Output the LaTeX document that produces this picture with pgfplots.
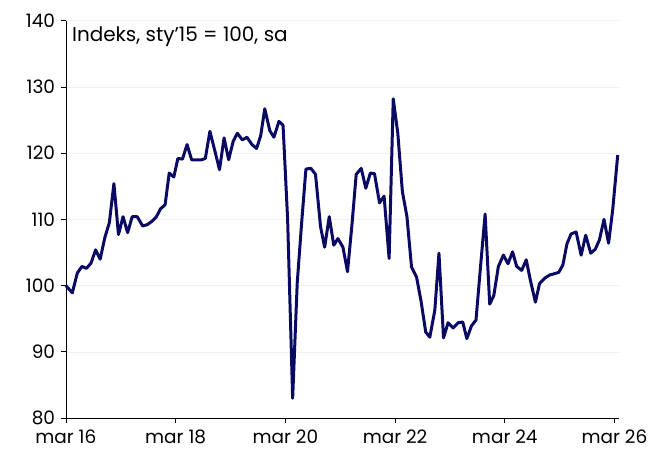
\documentclass[border=0pt]{standalone}
\usepackage{fontspec}
\setmainfont{Poppins}
\usepackage{pgfplots}
\pgfplotsset{compat=1.18}
\definecolor{navy}{RGB}{10,10,100}
\begin{document}
\fontsize{20bp}{24bp}\selectfont
\begin{tikzpicture}
\begin{axis}[
  scale only axis,
  width=554bp, height=398bp,
  xmin=0, xmax=121, ymin=80, ymax=140,
  axis x line*=bottom, axis y line*=left,
  axis line style={black, line width=0.8bp},
  tick align=outside, major tick length=5bp,
  tick style={black, line width=0.8bp},
  xtick={0,24,48,72,96,120},
  xticklabels={mar 16, mar 18, mar 20, mar 22, mar 24, mar 26},
  ytick={80,90,...,140},
  ymajorgrids, grid style={black!6, line width=0.6bp},
  /pgf/number format/assume math mode=true,
  ticklabel style={font=\fontsize{18.5bp}{22bp}\selectfont},
  yticklabel style={xshift=1bp},
  clip=false,
]
\addplot[navy, line width=3bp, line join=round] coordinates {
(0,100) (1.4,98.9) (2.5,101.9) (3.5,102.9) (4.5,102.6) (5.5,103.4)
(6.5,105.4) (7.5,104) (8.5,107.2) (9.5,109.5) (10.5,115.4) (11.5,107.7)
(12.5,110.4) (13.5,108) (14.5,110.4) (15.6,110.4) (16.8,109) (17.8,109.2)
(18.8,109.7) (19.8,110.4) (20.7,111.6) (21.7,112.2) (22.6,117) (23.6,116.4)
(24.5,119.2) (25.5,119.1) (26.5,121.3) (27.5,119) (28.6,119) (29.7,119)
(30.5,119.2) (31.5,123.3) (32.6,120.3) (33.6,117.5) (34.6,122.3) (35.6,119)
(36.6,121.8) (37.5,123) (38.6,122) (39.6,122.4) (40.7,121.3) (41.7,120.7)
(42.6,122.6) (43.5,126.7) (44.6,123.4) (45.5,122.4) (46.6,124.8) (47.5,124.2)
(48.5,110) (49.6,83.0) (50.6,100.4) (51.5,108.9) (52.5,117.6) (53.6,117.7)
(54.6,116.8) (55.7,108.9) (56.6,105.8) (57.6,110.4) (58.6,106.1) (59.5,107.1)
(60.6,105.8) (61.6,102.1) (62.6,109.4) (63.5,116.8) (64.6,117.7) (65.6,114.7)
(66.6,117) (67.5,116.9) (68.6,112.5) (69.6,113.5) (70.7,104.1) (71.6,128.2)
(72.6,123) (73.6,114.2) (74.6,110.4) (75.6,102.8) (76.7,101.3) (77.7,97.6)
(78.7,93) (79.6,92.2) (80.7,96.3) (81.6,104.9) (82.6,92.1) (83.6,94.4)
(84.7,93.6) (85.8,94.4) (86.8,94.5) (87.7,92.0) (88.7,93.9) (89.7,94.8)
(90.7,102.9) (91.7,110.8) (92.7,97.2) (93.6,98.5) (94.6,102.9) (95.7,104.6)
(96.7,103.3) (97.7,105.1) (98.6,102.9) (99.7,102.3) (100.7,103.9) (101.6,100.8)
(102.7,97.5) (103.6,100.3) (104.7,101.1) (105.8,101.6) (106.9,101.8) (107.8,102.0)
(108.7,103.1) (109.6,106.3) (110.5,107.8) (111.6,108.1) (112.7,104.6) (113.7,107.6)
(114.8,104.9) (115.8,105.5) (116.7,106.9) (117.7,110) (118.7,106.4) (119.6,111.4)
(120.7,119.7)
};
\node[anchor=base west, inner sep=0pt, font=\fontsize{20bp}{24bp}\selectfont]
  at ([xshift=6bp,yshift=-21bp]rel axis cs:0,1) {Indeks, sty'15 = 100, sa};
\end{axis}
\path (-66bp,-35.3bp) rectangle (588bp,418.7bp);
\end{tikzpicture}
\end{document}
